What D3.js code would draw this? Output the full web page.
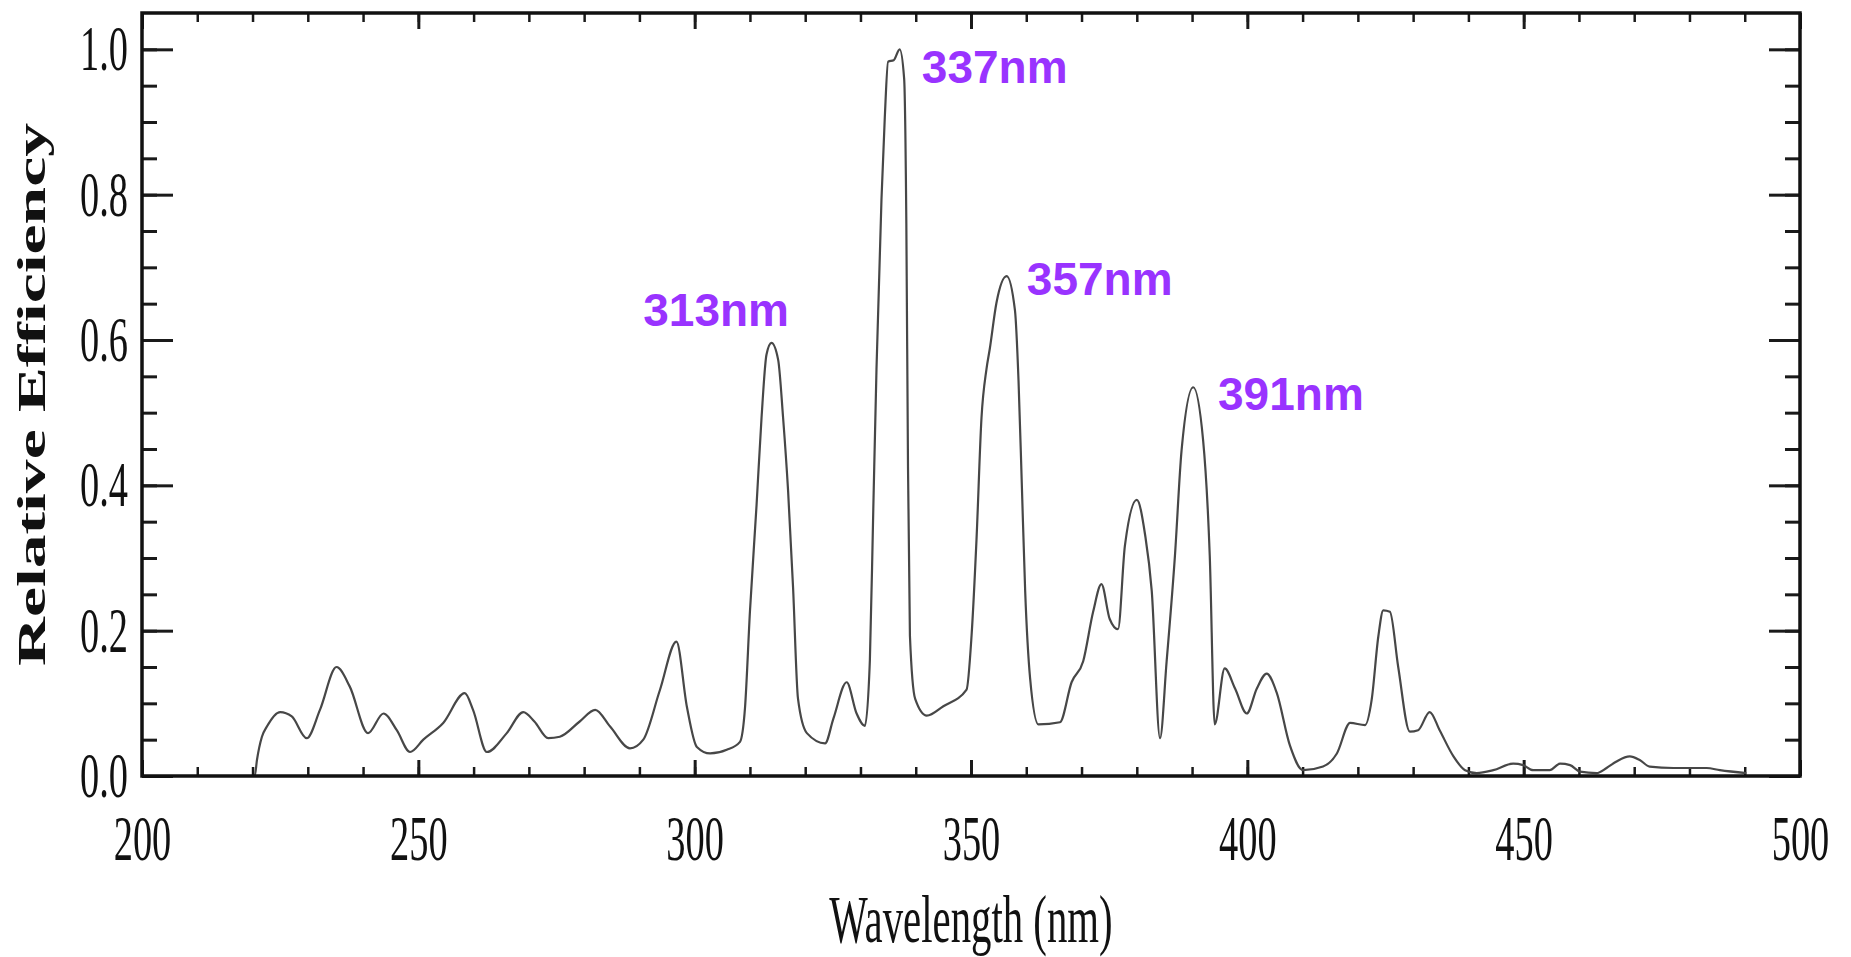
<!DOCTYPE html>
<html>
<head>
<meta charset="utf-8">
<script src="https://cdn.jsdelivr.net/npm/d3@7/dist/d3.min.js"></script>
<style>
  html, body { margin: 0; padding: 0; background: #fff; }
  svg { display: block; }
</style>
</head>
<body>
<svg id="chart" width="1851" height="957"></svg>
<script>
// ---- data ----
const wavelength = [
  200, 220.4, 220.8, 221.7, 222.6, 225.0, 227.1, 229.8, 232.2, 235.2, 237.6, 240.9, 243.7, 246.1, 248.5,
  250.9, 254.5, 258.4, 259.9, 262.4, 266.0, 269.0, 271.0, 273.5, 275.6, 279.2, 282.0, 284.7, 288.3, 290.7,
  293.7, 296.7, 298.6, 300.4, 302.8, 305.8, 308.2, 309.1, 310.0, 311.2, 312.1, 313.0, 313.9, 315.1, 316.0,
  316.9, 317.8, 318.7, 320.3, 323.6, 325.1, 327.5, 329.3, 330.8, 331.7, 332.3, 332.9, 333.8, 334.4, 335.0,
  336.0, 337.1, 337.9, 338.3, 338.6, 338.95, 339.9, 342.0, 345.0, 349.2, 350.1, 351.0, 351.9, 352.8, 353.4,
  354.6, 356.45, 357.95, 358.6, 359.2, 359.8, 360.7, 362.2, 366.1, 368.2, 370.3, 372.1, 373.6, 375.1, 376.6,
  377.85, 380.0, 381.5, 382.7, 384.2, 385.4, 386.9, 388.1, 390.2, 392.0, 393.2, 394.1, 395.9, 397.8, 399.9,
  401.7, 403.5, 405.3, 407.7, 410.1, 413.7, 416.2, 418.6, 421.3, 422.5, 423.7, 424.6, 425.8, 427.3, 429.4,
  430.9, 433.0, 434.8, 437.3, 439.4, 441.5, 444.5, 448.1, 449.9, 451.7, 454.7, 456.6, 458.4, 460.2, 463.2,
  465.0, 466.8, 469.2, 471.0, 472.8, 477.1, 483.1, 485.5, 490.3
];
const efficiency = [
  0, 0, 0.022, 0.054, 0.068, 0.088, 0.082, 0.052, 0.091, 0.150, 0.123, 0.059, 0.086, 0.063, 0.033,
  0.050, 0.073, 0.114, 0.091, 0.033, 0.059, 0.088, 0.075, 0.052, 0.054, 0.075, 0.091, 0.068, 0.038, 0.050,
  0.118, 0.185, 0.095, 0.040, 0.031, 0.036, 0.047, 0.093, 0.226, 0.373, 0.493, 0.580, 0.596, 0.573, 0.493,
  0.393, 0.260, 0.106, 0.059, 0.045, 0.079, 0.129, 0.086, 0.069, 0.159, 0.360, 0.560, 0.793, 0.906, 0.983,
  0.985, 1.000, 0.960, 0.760, 0.426, 0.193, 0.106, 0.083, 0.096, 0.119, 0.193, 0.326, 0.493, 0.560, 0.588,
  0.651, 0.688, 0.641, 0.544, 0.400, 0.255, 0.134, 0.071, 0.074, 0.129, 0.158, 0.226, 0.264, 0.216, 0.202,
  0.317, 0.380, 0.332, 0.255, 0.052, 0.158, 0.303, 0.448, 0.535, 0.462, 0.303, 0.071, 0.148, 0.120, 0.086,
  0.120, 0.141, 0.115, 0.042, 0.008, 0.013, 0.031, 0.073, 0.070, 0.105, 0.192, 0.228, 0.226, 0.150, 0.061,
  0.063, 0.088, 0.063, 0.027, 0.008, 0.004, 0.008, 0.017, 0.015, 0.008, 0.008, 0.017, 0.015, 0.006, 0.004,
  0.011, 0.020, 0.027, 0.022, 0.013, 0.011, 0.011, 0.008, 0.004
];
const xTickValues = [200, 250, 300, 350, 400, 450, 500];
const yTickValues = [0.0, 0.2, 0.4, 0.6, 0.8, 1.0];
const xTitle = "Wavelength (nm)";
const yTitle = "Relative Efficiency";
const annLabels = ["313nm", "337nm", "357nm", "391nm"];
const annWavelength = [290.7, 341.1, 360.1, 394.7];
const annEfficiency = [0.619, 0.954, 0.662, 0.504];

(function () {
  // ---- layout ----
  const pLeft = 142, pRight = 1800, pTop = 13, pBottom = 776;
  const squeeze = 0.6; // reference text is horizontally condensed
  const serif = "'Liberation Serif', 'Times New Roman', serif";

  const svg = d3.select("#chart");
  const x = d3.scaleLinear().domain([200, 500]).range([pLeft, pRight]);
  const y = d3.scaleLinear().domain([0, 1.05]).range([pBottom, pTop]);

  const tickColor = "#1a1a1a";

  function styleAxis(g, w) {
    g.select(".domain").remove();
    g.selectAll(".tick line").attr("stroke", tickColor).attr("stroke-width", w);
  }

  // minor ticks
  svg.append("g").attr("transform", `translate(${pLeft},0)`)
    .call(d3.axisLeft(y).tickValues(d3.range(0, 1.0001, 0.05)).tickSize(-15).tickFormat(""))
    .call(g => styleAxis(g, 3));
  svg.append("g").attr("transform", `translate(${pRight},0)`)
    .call(d3.axisRight(y).tickValues(d3.range(0, 1.0001, 0.05)).tickSize(-15).tickFormat(""))
    .call(g => styleAxis(g, 3));
  svg.append("g").attr("transform", `translate(0,${pBottom})`)
    .call(d3.axisBottom(x).tickValues(d3.range(200, 501, 10)).tickSize(-9).tickFormat(""))
    .call(g => styleAxis(g, 2.5));
  svg.append("g").attr("transform", `translate(0,${pTop})`)
    .call(d3.axisTop(x).tickValues(d3.range(200, 501, 10)).tickSize(-9).tickFormat(""))
    .call(g => styleAxis(g, 2.5));

  // major ticks
  const yAxisL = svg.append("g").attr("transform", `translate(${pLeft},0)`)
    .call(d3.axisLeft(y).tickValues(yTickValues).tickSize(-31).tickPadding(14).tickFormat(d3.format(".1f")))
    .call(g => styleAxis(g, 3));
  yAxisL.selectAll(".tick text")
    .attr("font-family", serif).attr("font-size", 64).attr("fill", "#111")
    .attr("x", -14 / squeeze)
    .attr("transform", `scale(${squeeze},1)`);

  svg.append("g").attr("transform", `translate(${pRight},0)`)
    .call(d3.axisRight(y).tickValues(yTickValues).tickSize(-31).tickFormat(""))
    .call(g => styleAxis(g, 3));

  const xAxisB = svg.append("g").attr("transform", `translate(0,${pBottom})`)
    .call(d3.axisBottom(x).tickValues(xTickValues).tickSize(-16).tickPadding(39).tickFormat(d3.format("d")))
    .call(g => styleAxis(g, 3));
  xAxisB.selectAll(".tick text")
    .attr("font-family", serif).attr("font-size", 64).attr("fill", "#111")
    .attr("transform", `scale(${squeeze},1)`);

  svg.append("g").attr("transform", `translate(0,${pTop})`)
    .call(d3.axisTop(x).tickValues(xTickValues).tickSize(-16).tickFormat(""))
    .call(g => styleAxis(g, 3));

  // curve
  const pts = wavelength.map((w, i) => [w, efficiency[i]]);
  svg.append("path")
    .datum(pts)
    .attr("fill", "none")
    .attr("stroke", "#474747")
    .attr("stroke-width", 2.2)
    .attr("stroke-linejoin", "round")
    .attr("d", d3.line().x(d => x(d[0])).y(d => y(d[1])).curve(d3.curveMonotoneX));

  // frame
  svg.append("rect")
    .attr("x", pLeft).attr("y", pTop)
    .attr("width", pRight - pLeft).attr("height", pBottom - pTop)
    .attr("fill", "none").attr("stroke", "#111").attr("stroke-width", 3.5);

  // axis titles
  svg.append("text")
    .attr("transform", `translate(${(pLeft + pRight) / 2},942) scale(${squeeze},1)`)
    .attr("text-anchor", "middle")
    .attr("font-family", serif).attr("font-size", 68).attr("fill", "#111")
    .text(xTitle);

  svg.append("text")
    .attr("transform", `translate(45,${(pTop + pBottom) / 2}) scale(${squeeze},1) rotate(-90)`)
    .attr("text-anchor", "middle")
    .attr("font-family", serif).attr("font-size", 68).attr("font-weight", "bold").attr("fill", "#111")
    .attr("textLength", 543).attr("lengthAdjust", "spacingAndGlyphs")
    .text(yTitle);

  // peak annotations
  svg.append("g").selectAll("text")
    .data(annLabels)
    .join("text")
    .attr("x", (d, i) => x(annWavelength[i]))
    .attr("y", (d, i) => y(annEfficiency[i]))
    .attr("font-family", "'Liberation Sans', Arial, sans-serif")
    .attr("font-weight", "bold")
    .attr("font-size", 46)
    .attr("fill", "#9933ff")
    .text(d => d);
})();
</script>
</body>
</html>
